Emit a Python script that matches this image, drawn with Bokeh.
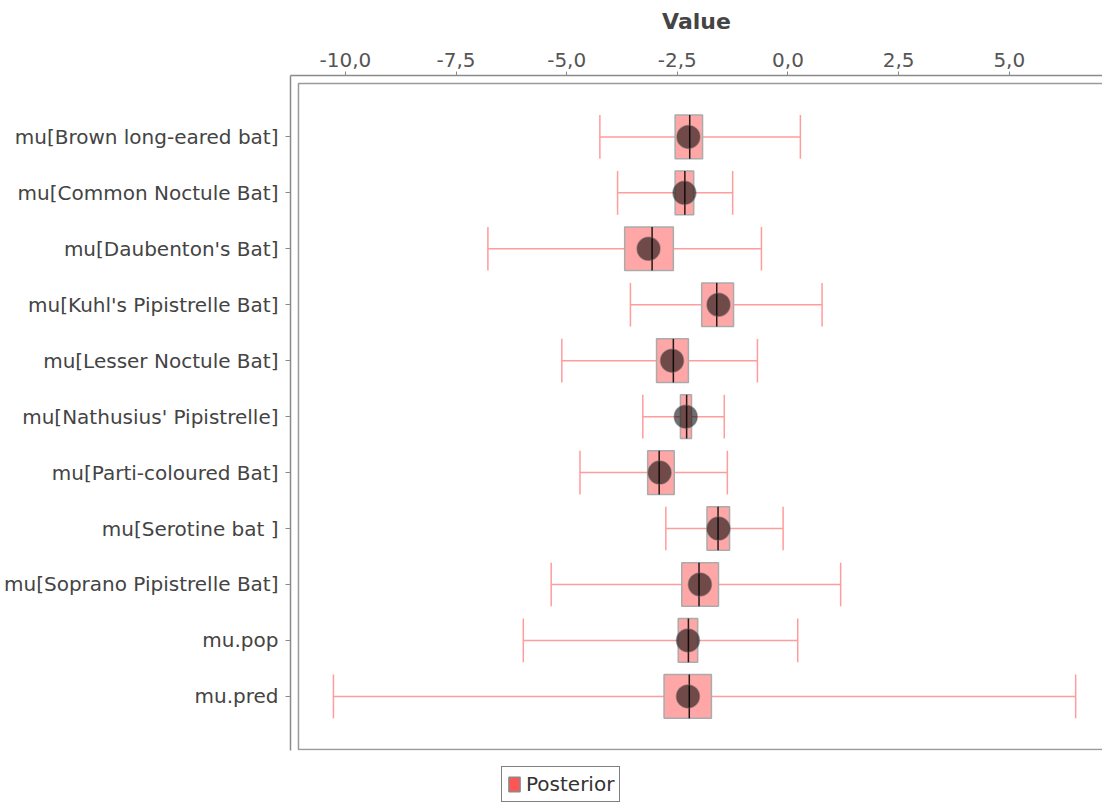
from bokeh.plotting import figure
from bokeh.models import (Range1d, FixedTicker, CustomJSTickFormatter,
                          ColumnDataSource, Legend, LegendItem)
from bokeh.layouts import column
from bokeh.embed import file_html
from bokeh.resources import INLINE

# ---------------- data ----------------
names = ["mu[Brown long-eared bat]", "mu[Common Noctule Bat]", "mu[Daubenton's Bat]",
         "mu[Kuhl's Pipistrelle Bat]", "mu[Lesser Noctule Bat]", "mu[Nathusius' Pipistrelle]",
         "mu[Parti-coloured Bat]", "mu[Serotine bat ]", "mu[Soprano Pipistrelle Bat]",
         "mu.pop", "mu.pred"]
whisker_lo = [-4.25, -3.85, -6.78, -3.56, -5.11, -3.28, -4.70, -2.76, -5.35, -5.98, -10.27]
whisker_hi = [0.28, -1.25, -0.60, 0.77, -0.69, -1.44, -1.37, -0.11, 1.19, 0.22, 6.50]
box_lo = [-2.55, -2.55, -3.69, -1.95, -2.97, -2.43, -3.17, -1.83, -2.40, -2.48, -2.80]
box_hi = [-1.93, -2.13, -2.59, -1.23, -2.25, -2.18, -2.57, -1.32, -1.57, -2.04, -1.73]
medians = [-2.22, -2.33, -3.07, -1.61, -2.59, -2.29, -2.91, -1.58, -2.01, -2.25, -2.23]
means = [-2.25, -2.34, -3.15, -1.57, -2.62, -2.31, -2.90, -1.57, -1.99, -2.26, -2.26]
x_ticks = [-10.0, -7.5, -5.0, -2.5, 0.0, 2.5, 5.0]
legend_label = "Posterior"

# ---------------- layout ----------------
W = 1102
H_MAIN = 752
H_LEG = 50
ML, MT, MR, MB = 288, 75, 0, 2
n = len(names)
ypos = [n - 1 - i for i in range(n)]
half = 0.39
FONT = "DejaVu Sans"

x_range = Range1d(-11.24, 7.106)
y_range = Range1d(-0.967, n - 1 + 1.097)

p = figure(width=W, height=H_MAIN, x_range=x_range, y_range=y_range,
           output_backend="svg", toolbar_location=None,
           x_axis_location="above", min_border_left=ML, min_border_top=MT,
           min_border_right=MR, min_border_bottom=MB)
p.grid.visible = False
p.outline_line_color = None
p.background_fill_color = "white"
p.border_fill_color = "white"

# x axis (top)
xa = p.xaxis[0]
xa.ticker = FixedTicker(ticks=x_ticks)
xa.formatter = CustomJSTickFormatter(code="return tick.toFixed(1).replace('.', ',');")
xa.axis_label = "Value"
xa.axis_label_text_font = FONT
xa.axis_label_text_font_size = "22px"
xa.axis_label_text_font_style = "bold"
xa.axis_label_text_color = "#444444"
xa.axis_label_standoff = 16
xa.major_label_text_font = FONT
xa.major_label_text_font_size = "20px"
xa.major_label_text_color = "#555555"
xa.major_label_standoff = 5
xa.major_tick_out = 4
xa.major_tick_in = 0
xa.minor_tick_out = 0
xa.minor_tick_in = 0
xa.axis_line_color = "#8a8a8a"
xa.axis_line_width = 1.5
xa.major_tick_line_color = "#8a8a8a"

# y axis (left)
ya = p.yaxis[0]
ya.ticker = FixedTicker(ticks=ypos)
ya.major_label_overrides = {yy: nm for yy, nm in zip(ypos, names)}
ya.major_label_text_font = FONT
ya.major_label_text_font_size = "20px"
ya.major_label_text_color = "#444444"
ya.major_label_standoff = 7
ya.major_tick_out = 5
ya.major_tick_in = 0
ya.minor_tick_out = 0
ya.minor_tick_in = 0
ya.axis_line_color = "#8a8a8a"
ya.axis_line_width = 1.5
ya.major_tick_line_color = "#8a8a8a"

# inner frame (offset from axes as in the reference)
xppu = (W - ML - MR) / (x_range.end - x_range.start)
yppu = (H_MAIN - MT - MB) / (y_range.end - y_range.start)
p.quad(left=[x_range.start + 8 / xppu], right=[x_range.end + 1],
       top=[y_range.end - 8 / yppu], bottom=[y_range.start + 1 / yppu],
       fill_color=None, line_color="#9a9a9a", line_width=1.5)

src = ColumnDataSource(dict(y=ypos, wlo=whisker_lo, whi=whisker_hi, blo=box_lo,
                            bhi=box_hi, med=medians, mean=means,
                            ytop=[v + half for v in ypos], ybot=[v - half for v in ypos]))

wc = "#ff9c9c"
p.segment(x0="wlo", x1="whi", y0="y", y1="y", source=src, line_color=wc, line_width=1.5)
p.segment(x0="wlo", x1="wlo", y0="ybot", y1="ytop", source=src, line_color=wc, line_width=1.5)
p.segment(x0="whi", x1="whi", y0="ybot", y1="ytop", source=src, line_color=wc, line_width=1.5)
p.quad(left="blo", right="bhi", bottom="ybot", top="ytop", source=src,
       fill_color="#ffa6a6", line_color="#ababab", line_width=1.5)
p.segment(x0="med", x1="med", y0="ybot", y1="ytop", source=src,
          line_color="black", line_width=1.5, line_alpha=0.85)
p.scatter(x="mean", y="y", source=src, size=23, marker="circle",
          fill_color="black", fill_alpha=0.56, line_color="#555555", line_alpha=0.45,
          line_width=1.5)

# legend in a small strip below (frame aligned with the main plot's frame)
lf = figure(width=W, height=H_LEG, x_range=Range1d(0, 1), y_range=Range1d(0, 1),
            output_backend="svg", toolbar_location=None, min_border=0)
lf.axis.visible = False
lf.grid.visible = False
lf.outline_line_color = None
lf.border_fill_color = "white"
# legend swatch renderer: one item lying outside the visible range
dummy = lf.quad(left=[-3], right=[-2], top=[-2], bottom=[-3], fill_color="#ff5555",
                line_color="#8a8a8a", line_width=1.5)
legend = Legend(items=[LegendItem(label=legend_label, renderers=[dummy])],
                location=(211, 0), orientation="horizontal",
                border_line_color="black", border_line_width=1.5,
                background_fill_color="white", background_fill_alpha=1.0,
                label_text_font=FONT, label_text_font_size="20px",
                label_text_color="#333333", glyph_width=14, glyph_height=18,
                label_height=20, padding=5, margin=0, spacing=0,
                label_standoff=5)
lf.add_layout(legend, "center")

layout = column(p, lf, spacing=0)
open("out.html", "w").write(file_html(layout, INLINE))
